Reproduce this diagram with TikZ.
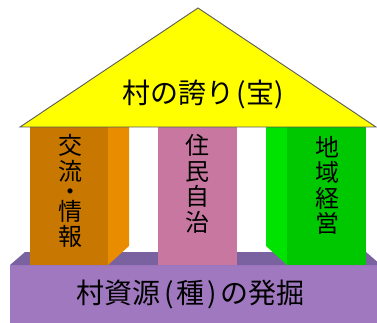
\documentclass[tikz,border=0pt]{standalone}
\usepackage{fontspec}
\setmainfont{Noto Sans CJK JP}
\definecolor{roofyellow}{RGB}{255,255,0}
\definecolor{roofline}{RGB}{90,90,90}
\definecolor{orangefront}{RGB}{200,120,0}
\definecolor{orangeside}{RGB}{234,140,0}
\definecolor{pinkfront}{RGB}{200,120,160}
\definecolor{greenfront}{RGB}{0,200,0}
\definecolor{greenside}{RGB}{0,226,0}
\definecolor{purplefront}{RGB}{160,120,192}
\definecolor{purpletop}{RGB}{122,98,160}
\tikzset{
  bigtext/.style={inner sep=0pt, font=\fontsize{28}{30}\selectfont},
  basetext/.style={inner sep=0pt, font=\fontsize{28}{30}\selectfont},
  coltext/.style={inner sep=0pt, align=center, font=\fontsize{24}{25.5}\selectfont}
}
\begin{document}
\begin{tikzpicture}[x=1pt,y=-1pt]
\useasboundingbox (0,0) rectangle (377,323);
\clip (0,0) rectangle (377,323);
% base
\fill[purplefront] (10,265) rectangle (390,330);
\fill[purpletop] (10,265) -- (25,252) -- (366,252) -- (381,265) -- cycle;
% orange pillar
\fill[orangefront] (30,127) rectangle (108,265);
\fill[orangeside] (108,127) -- (129,127) -- (129,246) -- (108,265) -- cycle;
% pink pillar
\fill[pinkfront] (158,127) rectangle (237,265);
% green pillar
\fill[greenside] (266,127) -- (287,127) -- (287,265) -- (266,246) -- cycle;
\fill[greenfront] (287,127) rectangle (366,265);
% roof
\filldraw[fill=roofyellow, draw=roofline, line width=0.9pt, line join=miter]
  (20,127) -- (198,8) -- (376,127) -- cycle;
% texts
\node[bigtext] (roof) at (204.5,94) {村の誇り\kern2pt(\kern0.5pt宝\kern0.5pt)\kern2pt};
\node[coltext] (col1) at (70,191) {交\\流\\[-5.5pt]・\\[-5.5pt]情\\報};
\node[coltext] (col2) at (197.5,184) {住\\民\\自\\治};
\node[coltext] (col3) at (327,185.5) {地\\域\\経\\営};
\node[basetext] (base) at (190.5,294.5) {村資源\kern4pt(\kern3pt種\kern3pt)\kern4ptの発掘};
\end{tikzpicture}
\end{document}
